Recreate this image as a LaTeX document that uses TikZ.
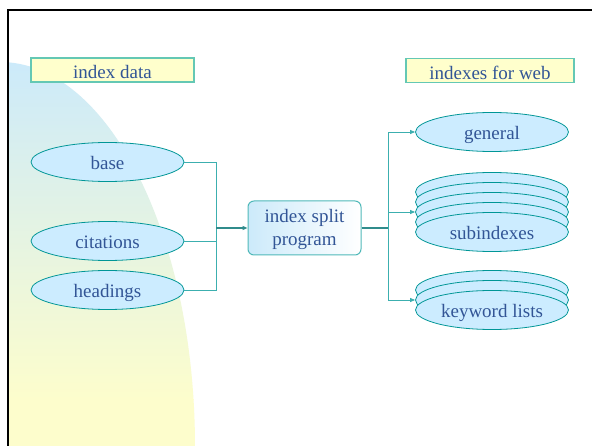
\documentclass[tikz,border=0pt]{standalone}
\usepackage{fontspec}
\setmainfont{Liberation Serif}
\newfontfamily\diagserif{Liberation Serif}
\usetikzlibrary{shapes.geometric,arrows.meta}
\definecolor{txt}{RGB}{50,85,150}
\definecolor{tealdark}{RGB}{0,150,150}
\definecolor{lineteal}{RGB}{60,175,175}
\definecolor{ellfill}{RGB}{204,236,255}
\definecolor{titlefill}{RGB}{255,255,204}
\definecolor{titledraw}{RGB}{100,200,180}
\definecolor{bgblue}{RGB}{204,234,250}
\definecolor{bgmid}{RGB}{218,240,236}
\definecolor{bgyellow}{RGB}{253,253,204}
\definecolor{progdraw}{RGB}{80,185,185}
\begin{document}
\begin{tikzpicture}[x=1pt,y=-1pt, font=\diagserif\fontsize{19}{23}\selectfont,
 titlebox/.style={draw=titledraw, fill=titlefill, line width=1.2pt, text=txt, minimum width=163pt, minimum height=24pt, inner sep=0pt, text height=18pt, text depth=0pt},
 oval/.style={ellipse, draw=tealdark, fill=ellfill, line width=0.8pt, text=txt, minimum width=153pt, minimum height=39pt, inner sep=0pt, text height=16pt, text depth=0pt},
 progbox/.style={rectangle, rounded corners=6pt, draw=progdraw, line width=1pt, left color=bgblue, right color=white, minimum width=113pt, minimum height=54pt, inner sep=0pt, align=center, text=txt, text height=36pt, text depth=0pt},
 conn/.style={draw=lineteal, line width=0.8pt},
 thickconn/.style={draw=lineteal!80!black, line width=1.2pt},
 arr/.style={conn, -{Triangle[length=5pt,width=4pt]}}]
\useasboundingbox (0,0) rectangle (592,446);
\fill[white] (0,0) rectangle (592,446);
\begin{scope}
\clip (9,11) rectangle (592,446);
\clip (0,447) ellipse [x radius=195, y radius=385];
\shade[top color=bgblue, middle color=bgmid, bottom color=bgyellow] (0,62) rectangle (200,400);
\fill[bgyellow] (0,399) rectangle (200,446);
\end{scope}
\draw[line width=2pt] (8,446) -- (8,10) -- (592,10);

\node[titlebox] (t1) at (112.5,70) {index data};
\node[titlebox, minimum width=168pt] (t2) at (490,70.5) {indexes for web};

\node[oval] (base) at (107.5,162) {base};
\node[oval] (cit) at (107.5,241) {citations};
\node[oval] (head) at (107.5,290) {headings};

\node[progbox] (prog) at (304.5,228) {index split\\program};

\node[oval] (general) at (492,132) {general};

\node[oval] (sub1) at (492,192) {};
\node[oval] (sub2) at (492,202) {};
\node[oval] (sub3) at (492,212) {};
\node[oval] (sub4) at (492,222) {};
\node[oval] (sub5) at (492,232) {subindexes};

\node[oval] (kw1) at (492,290) {};
\node[oval] (kw2) at (492,300) {};
\node[oval] (kw3) at (492,310) {keyword lists};

\coordinate (j1) at (216,228);
\coordinate (j2) at (388,228);

\draw[conn] (base.east) -| (j1);
\draw[conn] (cit.east) -| (j1);
\draw[conn] (head.east) -| (j1);
\draw[thickconn, -{Triangle[length=5pt,width=4pt]}] (j1) -- (prog.west);

\draw[thickconn] (prog.east) -- (j2);
\draw[arr] (j2) |- (general.west);
\draw[arr] (j2) |- (sub3.west);
\draw[arr] (j2) |- (kw2.west);
\end{tikzpicture}
\end{document}
